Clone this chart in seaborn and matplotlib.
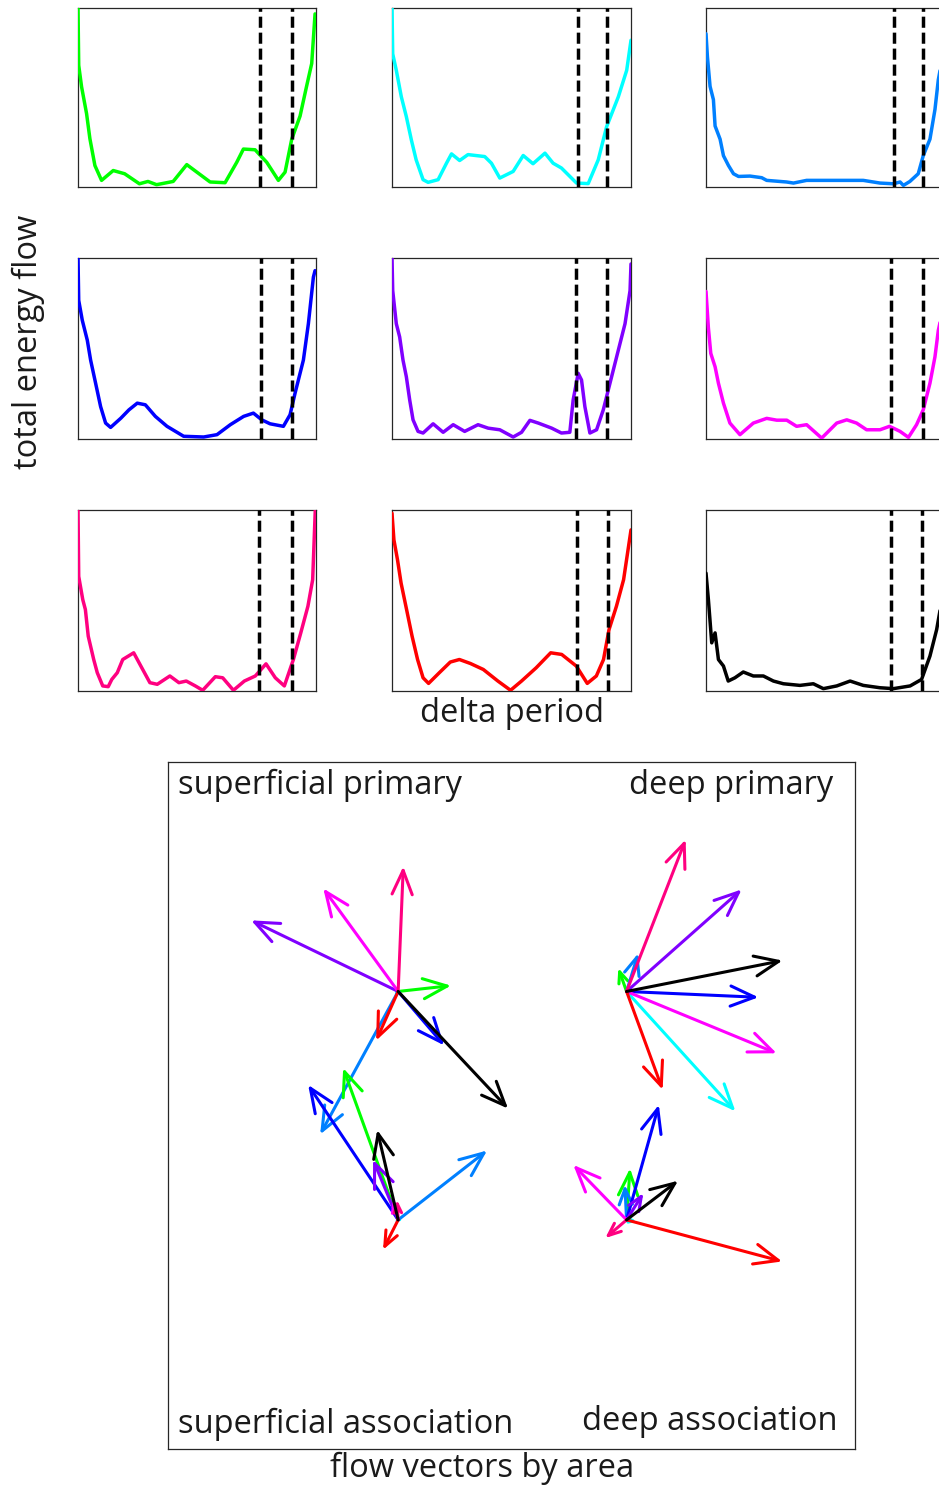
import numpy as np
import pandas as pd
import matplotlib
matplotlib.use("Agg")
import matplotlib.pyplot as plt
import seaborn as sns

# ---------------- data ----------------
area_colors = ["#00ff00", "#00ffff", "#0080ff", "#0000ff", "#8000ff",
               "#ff00ff", "#ff0080", "#ff0000", "#000000"]

# energy-flow curves (x = normalised delta period, y = normalised energy)
green_x = [0, .003, .015, .036, .05, .071, .099, .148, .196, .258, .294, .33, .40, .457, .555, .618, .667, .695, .744, .793, .842, .87, .898, .933, .96, .982, .996]
green_y = [1.0, .68, .56, .41, .27, .12, .037, .092, .074, .018, .031, .013, .031, .125, .028, .024, .138, .212, .208, .138, .037, .083, .267, .396, .56, .69, .967]
green_dash = [0.764, 0.898]

cyan_x = [0, .003, .018, .039, .06, .081, .101, .13, .151, .193, .228, .249, .283, .318, .388, .416, .451, .507, .549, .59, .64, .674, .709, .772, .821, .863, .898, .947, .982, 1.0]
cyan_y = [1.0, .744, .652, .504, .393, .263, .152, .041, .026, .041, .133, .185, .148, .181, .170, .133, .05, .087, .176, .13, .189, .133, .106, .022, .019, .152, .337, .504, .652, .82]
cyan_dash = [0.777, 0.899]

dodger_x = [0, .006, .017, .031, .038, .059, .073, .094, .115, .136, .184, .233, .254, .337, .366, .421, .533, .658, .728, .784, .812, .826, .853, .888, .909, .937, .958, .972, 1.0]
dodger_y = [.856, .727, .562, .488, .341, .267, .175, .12, .074, .059, .061, .052, .037, .028, .022, .037, .037, .037, .022, .018, .028, .009, .031, .074, .175, .267, .433, .599, .8]
dodger_dash = [0.787, 0.909]

blue_x = [0, .003, .018, .039, .053, .074, .095, .116, .137, .18, .214, .249, .283, .325, .374, .444, .528, .584, .64, .696, .737, .772, .807, .863, .891, .912, .947, .968, .989, .996]
blue_y = [1.0, .766, .656, .546, .436, .308, .179, .088, .064, .115, .161, .198, .189, .125, .07, .015, .011, .024, .079, .125, .143, .106, .084, .07, .134, .253, .436, .637, .894, .93]
blue_dash = [0.768, 0.898]

purple_x = [0, .003, .018, .032, .046, .06, .074, .088, .109, .13, .172, .214, .256, .304, .36, .402, .451, .507, .542, .577, .612, .668, .709, .744, .758, .779, .793, .807, .828, .856, .884, .912, .947, .975, .996, 1.0]
purple_y = [1.0, .82, .637, .564, .436, .344, .216, .106, .042, .033, .084, .037, .079, .042, .079, .06, .051, .011, .037, .103, .088, .06, .033, .037, .216, .363, .326, .179, .033, .051, .161, .308, .491, .637, .82, .967]
purple_dash = [0.771, 0.899]

magenta_x = [0, .01, .02, .038, .052, .073, .1, .142, .198, .254, .296, .338, .379, .421, .484, .547, .589, .63, .672, .728, .768, .812, .847, .881, .909, .937, .958, .972, 1.0]
magenta_y = [.815, .614, .473, .399, .308, .198, .088, .024, .088, .114, .104, .104, .07, .079, .005, .088, .106, .088, .051, .051, .07, .042, .009, .079, .161, .308, .454, .6, .77]
magenta_dash = [0.773, 0.907]

pink_x = [0, .003, .02, .031, .043, .066, .081, .104, .127, .142, .165, .188, .234, .264, .302, .333, .386, .424, .455, .493, .524, .577, .608, .653, .699, .745, .79, .829, .867, .905, .936, .966, .986, .997]
pink_y = [1.0, .633, .505, .45, .303, .174, .101, .028, .024, .064, .101, .174, .211, .138, .046, .037, .083, .046, .055, .028, .004, .079, .073, .004, .055, .083, .15, .073, .028, .174, .321, .468, .615, 1.0]
pink_dash = [0.76, 0.898]

red_x = [0, .008, .023, .038, .061, .084, .107, .13, .153, .198, .244, .282, .328, .382, .443, .496, .542, .603, .664, .71, .771, .817, .855, .885, .908, .939, .969, 1.0]
red_y = [.982, .835, .725, .596, .45, .303, .174, .073, .042, .101, .16, .174, .152, .119, .055, .004, .055, .128, .211, .202, .138, .042, .083, .174, .339, .468, .615, .89]
red_dash = [0.774, 0.905]

black_x = [0, .01, .024, .038, .052, .073, .093, .121, .156, .198, .24, .282, .324, .393, .449, .491, .547, .603, .658, .728, .784, .854, .902, .937, .965, 1.0]
black_y = [.651, .505, .266, .321, .174, .138, .055, .073, .105, .083, .083, .055, .04, .031, .04, .013, .028, .055, .031, .018, .013, .028, .064, .193, .339, .6]
black_dash = [0.775, 0.905]

panel_x = [green_x, cyan_x, dodger_x, blue_x, purple_x, magenta_x, pink_x, red_x, black_x]
panel_y = [green_y, cyan_y, dodger_y, blue_y, purple_y, magenta_y, pink_y, red_y, black_y]
panel_dash = [green_dash, cyan_dash, dodger_dash, blue_dash, purple_dash,
              magenta_dash, pink_dash, red_dash, black_dash]

# flow vectors by area (order of area_colors)
area_names = ["superficial primary", "deep primary",
              "superficial association", "deep association"]
origin_x = [-0.33, 0.335, -0.33, 0.335]
origin_y = [0.332, 0.332, -0.333, -0.333]
sp_u = [0.154, -0.01, -0.227, 0.134, -0.428, -0.218, 0.015, -0.064, 0.32]
sp_v = [0.017, -0.02, -0.416, -0.157, 0.207, 0.30, 0.364, -0.143, -0.341]
dp_u = [-0.024, 0.317, 0.034, 0.384, 0.335, 0.437, 0.172, 0.105, 0.454]
dp_v = [0.068, -0.349, 0.111, -0.017, 0.297, -0.18, 0.442, -0.286, 0.09]
sa_u = [-0.16, -0.01, 0.259, -0.262, -0.073, -0.015, -0.003, -0.044, -0.061]
sa_v = [0.442, -0.01, 0.202, 0.393, 0.175, 0.06, 0.058, -0.087, 0.262]
da_u = [0.01, 0.03, -0.005, 0.094, 0.049, -0.155, -0.062, 0.453, 0.15]
da_v = [0.15, -0.005, 0.102, 0.335, 0.078, 0.16, -0.053, -0.121, 0.114]
vec_u = [sp_u, dp_u, sa_u, da_u]
vec_v = [sp_v, dp_v, sa_v, da_v]

# ---------------- figure ----------------
sns.set_theme(style="white")
plt.rcParams['font.family'] = ['Open Sans', 'DejaVu Sans']

W, H = 939, 1486
fig = plt.figure(figsize=(W / 100, H / 100), dpi=100)


def px_rect(l, t, r, b):
    return [l / W, 1 - b / H, (r - l) / W, (b - t) / H]


spine_col = "#262626"
col_l = [78, 392, 706]
col_w = [238, 239, 239]
row_t = [8, 258, 510]
row_b = [187, 439, 691]

for i in range(9):
    r, c = divmod(i, 3)
    ax = fig.add_axes(px_rect(col_l[c], row_t[r], col_l[c] + col_w[c], row_b[r]))
    df = pd.DataFrame({"x": panel_x[i], "y": panel_y[i]})
    sns.lineplot(data=df, x="x", y="y", color=area_colors[i], lw=2.5,
                 sort=False, estimator=None, ax=ax, zorder=3)
    for d in panel_dash[i]:
        ax.axvline(d, color="black", lw=2.5, ls=(0, (3.2, 1.4)), zorder=4)
    ax.set_xlim(0, 1)
    ax.set_ylim(0, 1)
    ax.set_xticks([])
    ax.set_yticks([])
    ax.set_xlabel("")
    ax.set_ylabel("")
    for s in ax.spines.values():
        s.set_color(spine_col)
        s.set_linewidth(0.9)

fs = 23.5
fig.text(28 / W, 1 - 342 / H, "total energy flow", rotation=90,
         ha="center", va="center", fontsize=fs, color="#1a1a1a")
fig.text(512 / W, 1 - 713 / H, "delta period", ha="center", va="center",
         fontsize=fs, color="#1a1a1a")
fig.text(482 / W, 1 - 1468 / H, "flow vectors by area", ha="center",
         va="center", fontsize=fs, color="#1a1a1a")

# vector axes
axv = fig.add_axes(px_rect(168, 762, 855, 1449))
axv.set_xlim(-1, 1)
axv.set_ylim(-1, 1)
axv.set_xticks([])
axv.set_yticks([])
for s in axv.spines.values():
    s.set_color(spine_col)
    s.set_linewidth(0.9)

px_per_unit = 687 / 2.0
for a in range(4):
    x0, y0 = origin_x[a], origin_y[a]
    for k in range(9):
        u, v = vec_u[a][k], vec_v[a][k]
        Lpx = np.hypot(u, v) * px_per_unit
        head_px = min(24.0, 0.45 * Lpx)
        head_pt = head_px / 1.389
        axv.annotate("", xy=(x0 + u, y0 + v), xytext=(x0, y0),
                     arrowprops=dict(arrowstyle="->,head_length=%.3f,head_width=%.3f"
                                     % (head_pt / 10, head_pt * 0.42 / 10),
                                     color=area_colors[k], lw=2.2,
                                     shrinkA=0, shrinkB=0, mutation_scale=10))

axv.text(0.0146, 0.966, area_names[0], transform=axv.transAxes,
         ha="left", va="center", fontsize=fs, color="#1a1a1a")
axv.text(0.968, 0.966, area_names[1], transform=axv.transAxes,
         ha="right", va="center", fontsize=fs, color="#1a1a1a")
axv.text(0.0146, 0.036, area_names[2], transform=axv.transAxes,
         ha="left", va="center", fontsize=fs, color="#1a1a1a")
axv.text(0.975, 0.040, area_names[3], transform=axv.transAxes,
         ha="right", va="center", fontsize=fs, color="#1a1a1a")

fig.savefig("out.png", dpi=100)
